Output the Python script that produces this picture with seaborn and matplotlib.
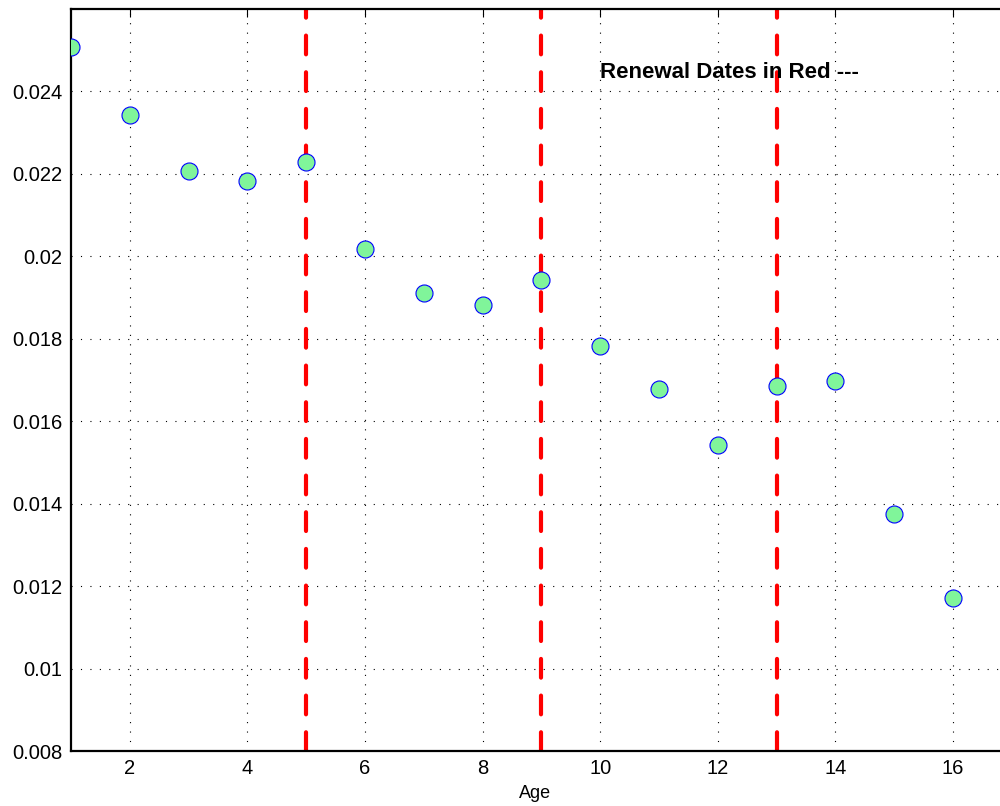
import matplotlib
matplotlib.use("Agg")
import matplotlib.pyplot as plt
import seaborn as sns
import pandas as pd

# data
age = [1, 2, 3, 4, 5, 6, 7, 8, 9, 10, 11, 12, 13, 14, 15, 16]
rate = [0.02507, 0.02342, 0.02208, 0.02184, 0.02228, 0.02019, 0.01910, 0.01881,
        0.01942, 0.01782, 0.01678, 0.01542, 0.01685, 0.01697, 0.01375, 0.01171]
renewal_ages = [5, 9, 13]
x_ticks = [2, 4, 6, 8, 10, 12, 14, 16]
y_ticks = [0.008, 0.01, 0.012, 0.014, 0.016, 0.018, 0.02, 0.022, 0.024]
y_labels = ["0.008", "0.01", "0.012", "0.014", "0.016", "0.018", "0.02", "0.022", "0.024"]

df = pd.DataFrame({"Age": age, "Rate": rate})

sns.set_style("white")
plt.rcParams["font.family"] = ["Liberation Sans", "DejaVu Sans"]
plt.rcParams["text.color"] = "black"
plt.rcParams["axes.labelcolor"] = "black"

fig = plt.figure(figsize=(10, 8.06), dpi=100)
ax = fig.add_axes([0.071, 0.0682, 0.929, 0.9206])

# renewal dates as red dashed lines
for a in renewal_ages:
    ax.axvline(a, color="#ff0000", lw=3, ls=(0, (4.5, 4.3)),
               dash_capstyle="round", zorder=1)

sns.scatterplot(data=df, x="Age", y="Rate", ax=ax, s=150,
                color="#80f59a", edgecolor="#0000ff", linewidth=0.8, zorder=3)

ax.text(10.0, 0.02446, "Renewal Dates in Red ---", fontsize=16,
        fontweight="bold", va="center", ha="left")

ax.set_xlim(1, 16.8)
ax.set_ylim(0.008, 0.026)
ax.set_xticks(x_ticks)
ax.set_yticks(y_ticks)
ax.set_yticklabels(y_labels)
ax.set_xlabel("Age", fontsize=13, labelpad=5)
ax.set_ylabel("")

ax.grid(True, color="black", ls=(0, (1, 7.5)), lw=0.8)
ax.tick_params(direction="in", length=6, labelsize=14.5, top=True, right=False,
               color="black", labelcolor="black", width=0.8, pad=6)
for side in ["left", "bottom", "top"]:
    ax.spines[side].set_color("black")
    ax.spines[side].set_linewidth(1.6)
ax.spines["right"].set_visible(False)

fig.savefig("out.png", dpi=100)
